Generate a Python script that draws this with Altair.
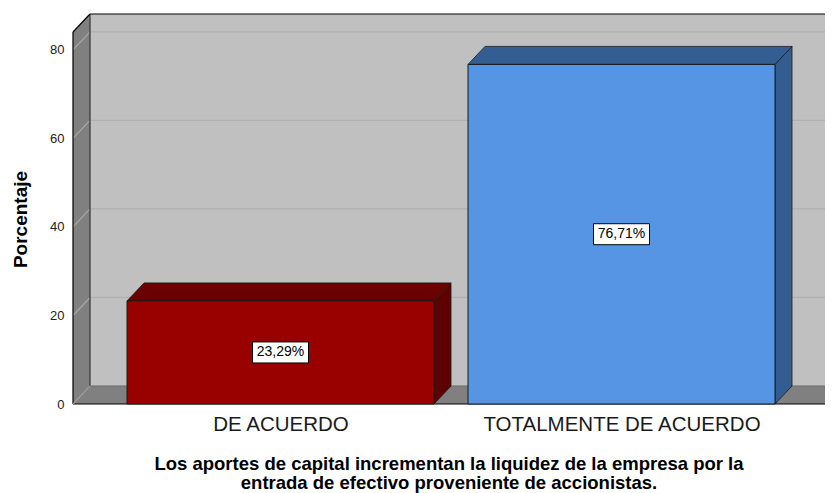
import json
import altair as alt
import pandas as pd

# ---------------- data ----------------
categories = ["DE ACUERDO", "TOTALMENTE DE ACUERDO"]
values = [23.29, 76.71]
value_labels = ["23,29%", "76,71%"]
y_ticks = [0, 20, 40, 60, 80]
y_title = "Porcentaje"
x_title = ["Los aportes de capital incrementan la liquidez de la empresa por la",
           "entrada de efectivo proveniente de accionistas."]

# ---------------- styles / layout ----------------
FRONT = ["#990000", "#5595e4"]
SIDE = ["#5e0000", "#335d91"]
TOPF = ["#6a0000", "#345e93"]
WALL = "#c0c0c0"
SIDEWALL = "#808080"
FONT = "Liberation Sans"

W, H = 752, 390            # plot area in px
Y_TOP = 88.1               # value at top of back wall
PXU = H / Y_TOP            # px per value unit
DX = 17                    # depth offset in x (px == x units)
DV = 18 / PXU              # depth offset in value units
FT = Y_TOP - DV            # front top
BAR_W, STEP, FIRST = 307, 341, 207.5
BOX_W, BOX_H = 56, 21
TITLE_OFFSETS = [60, 78.5]  # px below the baseline for each title line

xs = alt.Scale(domain=[0, W], nice=False, zero=False)
ys = alt.Scale(domain=[0, Y_TOP], nice=False, zero=False)

label_expr = f"{json.dumps(categories)}[round((datum.value - {FIRST}) / {STEP})]"

XA = alt.Axis(
    values=[FIRST + i * STEP for i in range(len(categories))],
    labelExpr=label_expr, grid=False, ticks=False, domain=False, labelLimit=0,
    labelFont=FONT, labelFontSize=20.5, labelColor="#1a1a1a", labelPadding=10,
    title=None)
YA = alt.Axis(
    values=y_ticks, grid=False, ticks=False, domain=False,
    labelFont=FONT, labelFontSize=13, labelColor="#222", labelPadding=9,
    title=y_title, titleFont=FONT, titleFontSize=19, titleFontWeight="bold",
    titleColor="#000", titleAngle=-90, titleX=-53, titleY=205,
    titleAlign="center", titleBaseline="middle")

# bar tables
rows, tops, sides = [], [], []
for i, (c, v, lab) in enumerate(zip(categories, values, value_labels)):
    xc = FIRST + i * STEP
    x0, x1 = xc - BAR_W / 2, xc + BAR_W / 2
    rows.append(dict(cat=c, v=v, lab=lab, x0=x0, x1=x1, xc=xc, zero=0, ym=v / 2,
                     bx0=xc - BOX_W / 2, bx1=xc + BOX_W / 2,
                     by0=v / 2 - BOX_H / 2 / PXU, by1=v / 2 + BOX_H / 2 / PXU,
                     fill=FRONT[i]))
    tops += [dict(cat=c, y=v, xa=x0, xb=x1, fill=TOPF[i]),
             dict(cat=c, y=v + DV, xa=x0 + DX, xb=x1 + DX, fill=TOPF[i])]
    sides += [dict(cat=c, x=x1, ya=0, yb=v, fill=SIDE[i]),
              dict(cat=c, x=x1 + DX, ya=DV, yb=v + DV, fill=SIDE[i])]
bars = pd.DataFrame(rows)
tops = pd.DataFrame(tops)
sides = pd.DataFrame(sides)
title_df = pd.DataFrame(dict(t=x_title, x=[W / 2] * len(x_title),
                             y=[-o / PXU for o in TITLE_OFFSETS]))


def X(f, **kw):
    return alt.X(f, scale=xs, axis=XA, **kw)


def Y(f, **kw):
    return alt.Y(f, scale=ys, axis=YA, **kw)


# ---------------- walls ----------------
back = alt.Chart(pd.DataFrame([dict(x=DX, x2=W, y=DV, y2=Y_TOP)])).mark_rect(
    fill=WALL).encode(x=X("x:Q"), x2="x2:Q", y=Y("y:Q"), y2="y2:Q")

left_wall = alt.Chart(pd.DataFrame([dict(x=0, y=0, y2=FT), dict(x=DX, y=DV, y2=Y_TOP)])).mark_area(
    fill=SIDEWALL, opacity=1).encode(x=X("x:Q"), y=Y("y:Q", stack=None), y2="y2:Q")

floor = alt.Chart(pd.DataFrame([dict(y=0, x=0, x2=W), dict(y=DV, x=DX, x2=W)])).mark_area(
    fill=SIDEWALL, opacity=1, orient="horizontal").encode(
    y=Y("y:Q"), x=X("x:Q", stack=None), x2="x2:Q")

grid_back = alt.Chart(pd.DataFrame(dict(v=[t + DV for t in y_ticks[1:]]))).mark_rule(
    color="#b0b0b0", strokeWidth=1.2).encode(
    x=X("a:Q"), x2="b:Q", y=Y("v:Q")).transform_calculate(a=str(DX), b=str(W))

grid_side = alt.Chart(pd.DataFrame(dict(v=y_ticks[1:], v2=[t + DV for t in y_ticks[1:]]))).mark_rule(
    color="#a8a8a8", strokeWidth=1.2).encode(
    x=X("a:Q"), x2="b:Q", y=Y("v:Q"), y2="v2:Q").transform_calculate(a="0", b=str(DX))

edges = pd.DataFrame([
    dict(xa=DX, xb=W, ya=Y_TOP, yb=Y_TOP, c="#000"),
    dict(xa=DX, xb=DX, ya=DV, yb=Y_TOP, c="#333"),
    dict(xa=0, xb=DX, ya=FT, yb=Y_TOP, c="#000"),
    dict(xa=0, xb=0, ya=0, yb=FT, c="#000"),
    dict(xa=0, xb=W, ya=0, yb=0, c="#000"),
    dict(xa=0, xb=DX, ya=0, yb=DV, c="#9a9a9a"),
    dict(xa=DX, xb=W, ya=DV, yb=DV, c="#6a6a6a"),
])
edge_layer = alt.Chart(edges).mark_rule(strokeWidth=1.2).encode(
    x=X("xa:Q"), x2="xb:Q", y=Y("ya:Q"), y2="yb:Q",
    color=alt.Color("c:N", scale=None))

# ---------------- bars ----------------
front = alt.Chart(bars).mark_rect(stroke="#1a1a1a", strokeWidth=1).encode(
    x=X("x0:Q"), x2="x1:Q", y=Y("zero:Q"), y2="v:Q",
    fill=alt.Fill("fill:N", scale=None))

top_face = alt.Chart(tops).mark_area(orient="horizontal", opacity=1, stroke="#1a1a1a",
                                     strokeWidth=0.8).encode(
    y=Y("y:Q"), x=X("xa:Q", stack=None), x2="xb:Q",
    detail="cat:N", fill=alt.Fill("fill:N", scale=None))

side_face = alt.Chart(sides).mark_area(opacity=1, stroke="#1a1a1a", strokeWidth=0.8).encode(
    x=X("x:Q"), y=Y("ya:Q", stack=None), y2="yb:Q",
    detail="cat:N", fill=alt.Fill("fill:N", scale=None))

box = alt.Chart(bars).mark_rect(fill="white", stroke="#000", strokeWidth=1).encode(
    x=X("bx0:Q"), x2="bx1:Q", y=Y("by0:Q"), y2="by1:Q")

text = alt.Chart(bars).mark_text(font=FONT, fontSize=14, color="#000", baseline="middle").encode(
    x=X("xc:Q"), y=Y("ym:Q"), text="lab:N")

title_text = alt.Chart(title_df).mark_text(
    font=FONT, fontSize=18.5, fontWeight="bold", color="#000", baseline="middle",
    align="center").encode(x=X("x:Q"), y=Y("y:Q"), text="t:N")

chart = alt.layer(back, left_wall, floor, grid_back, grid_side, edge_layer,
                  side_face, top_face, front, box, text, title_text).properties(
    width=W, height=H,
    autosize=alt.AutoSizeParams(type="none"),
    padding={"left": 65, "top": 6, "right": 0, "bottom": 89},
    background="white",
).configure_view(stroke=None)

chart.save("out.html", embed_options={"renderer": "svg", "actions": False})
